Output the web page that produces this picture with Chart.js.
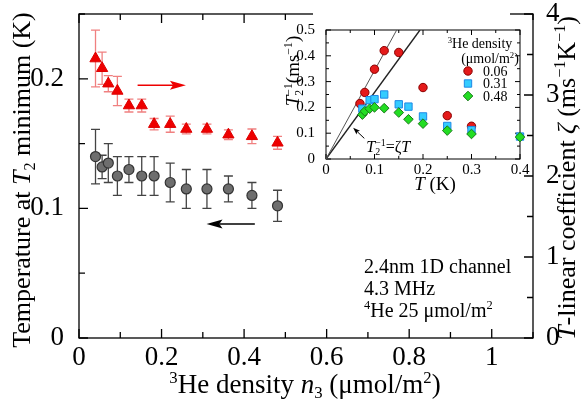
<!DOCTYPE html>
<html><head><meta charset="utf-8">
<script src="https://cdn.jsdelivr.net/npm/chart.js@4.4.1/dist/chart.umd.min.js"></script>
<style>
html,body{margin:0;padding:0;background:#fff;}
#wrap{position:relative;width:582px;height:407px;overflow:hidden;background:#fff;}
#main{position:absolute;left:0;top:0;}
#inset{position:absolute;left:272px;top:0;}
</style></head><body>
<div id="wrap"><canvas id="main" width="582" height="407"></canvas><canvas id="inset" width="260" height="200"></canvas></div>
<script>
// ---------- main panel data ----------
const densities = [0.040,0.056,0.071,0.093,0.121,0.152,0.182,0.221,0.260,0.310,0.362,0.419,0.481];
const tMin      = [0.140,0.132,0.135,0.125,0.130,0.125,0.125,0.120,0.115,0.115,0.115,0.110,0.102];
const tMinErr   = [0.021,0.009,0.015,0.015,0.010,0.015,0.015,0.015,0.015,0.015,0.010,0.010,0.012];
const zeta      = [3.45,3.33,3.14,3.05,2.87,2.87,2.64,2.64,2.58,2.58,2.51,2.49,2.41];
const zetaErr   = [0.35,0.20,0.10,0.18,0.08,0.08,0.07,0.10,0.06,0.06,0.06,0.09,0.08];
const xTickLabels = [0,0.2,0.4,0.6,0.8,1];
const yLeftTickLabels = [0,0.1,0.2];
const yRightTickLabels = [0,1,2,3,4];
// arrows (data units): [x from, x to, y]
const redArrow = [0.142, 0.259, 3.12];
const blackArrow = [0.426, 0.309, 0.088];
const infoLines = ['2.4nm 1D channel', '4.3 MHz', '4He 25 μmol/m2'];

// ---------- inset data ----------
const insetLegend = ['0.06', '0.31', '0.48'];
const tempA = [0.07,0.08,0.10,0.12,0.15,0.20,0.25,0.30];
const rateA = [0.215,0.258,0.348,0.420,0.413,0.277,0.168,0.127];
const tempB = [0.075,0.09,0.10,0.12,0.15,0.17,0.20,0.25,0.30,0.40];
const rateB = [0.195,0.228,0.232,0.250,0.212,0.203,0.165,0.128,0.112,0.087];
const tempC = [0.075,0.08,0.09,0.10,0.12,0.15,0.17,0.20,0.25,0.30,0.40];
const rateC = [0.172,0.185,0.195,0.200,0.197,0.180,0.154,0.137,0.110,0.097,0.085];
const zetaLines = [3.43, 2.58];
const insetXTicks = [0,0.1,0.2,0.3,0.4];
const insetYTicks = [0,0.1,0.2,0.3,0.4,0.5];

const SERIF = "'Liberation Serif','Times New Roman',serif";

function richText(ctx, segs, cx, cy, rot, size, align, color) {
  ctx.save(); ctx.translate(cx, cy); ctx.rotate(rot || 0);
  const items = []; let total = 0;
  for (const s of segs) {
    const small = s.sup || s.sub;
    const fs = small ? size * 0.62 : size;
    const font = (s.it ? 'italic ' : '') + fs + 'px ' + SERIF;
    ctx.font = font;
    const w = ctx.measureText(s.t).width;
    items.push({ s, font, w });
    if (!s.noadv) total += w;
  }
  let x = align === 'left' ? 0 : -total / 2;
  ctx.fillStyle = color || '#000'; ctx.textAlign = 'left'; ctx.textBaseline = 'alphabetic';
  const base = size * 0.33;
  for (const it of items) {
    ctx.font = it.font;
    const dy = it.s.sup ? -size * 0.36 : it.s.sub ? size * 0.2 : 0;
    ctx.fillText(it.s.t, x, base + dy);
    if (!it.s.noadv) x += it.w;
  }
  ctx.restore();
}

function arrow(ctx, x1, y1, x2, y2, color, hl, hw, lw) {
  const ang = Math.atan2(y2 - y1, x2 - x1);
  ctx.save(); ctx.strokeStyle = color; ctx.fillStyle = color; ctx.lineWidth = lw;
  ctx.beginPath(); ctx.moveTo(x1, y1);
  ctx.lineTo(x2 - Math.cos(ang) * hl * 0.8, y2 - Math.sin(ang) * hl * 0.8); ctx.stroke();
  ctx.beginPath(); ctx.moveTo(x2, y2);
  ctx.lineTo(x2 - Math.cos(ang) * hl - Math.sin(ang) * hw, y2 - Math.sin(ang) * hl + Math.cos(ang) * hw);
  ctx.lineTo(x2 - Math.cos(ang) * hl * 0.8, y2 - Math.sin(ang) * hl * 0.8);
  ctx.lineTo(x2 - Math.cos(ang) * hl + Math.sin(ang) * hw, y2 - Math.sin(ang) * hl - Math.cos(ang) * hw);
  ctx.closePath(); ctx.fill();
  ctx.restore();
}

function fmt(v) { return String(+(+v).toFixed(2)); }
function noPad(s) { s.paddingTop = 0; s.paddingBottom = 0; s.paddingLeft = 0; s.paddingRight = 0; }

const mainDecor = {
  id: 'mainDecor',
  beforeDatasetsDraw(chart) {
    const ctx = chart.ctx, a = chart.chartArea;
    chart.data.datasets.forEach((ds) => {
      const xs = chart.scales.x, ys = chart.scales[ds.yAxisID];
      ctx.save(); ctx.strokeStyle = ds.errColor; ctx.lineWidth = 1.3;
      ds.data.forEach((p, i) => {
        const px = xs.getPixelForValue(p.x);
        const t = ys.getPixelForValue(p.y + ds.errors[i]);
        const b = ys.getPixelForValue(p.y - ds.errors[i]);
        ctx.beginPath();
        ctx.moveTo(px, t); ctx.lineTo(px, b);
        ctx.moveTo(px - 4.5, t); ctx.lineTo(px + 4.5, t);
        ctx.moveTo(px - 4.5, b); ctx.lineTo(px + 4.5, b);
        ctx.stroke();
      });
      ctx.restore();
    });
    ctx.save(); ctx.strokeStyle = '#000'; ctx.lineWidth = 1.3;
    ctx.strokeRect(a.left, a.top, a.right - a.left, a.bottom - a.top);
    ctx.beginPath();
    const xs = chart.scales.x, yl = chart.scales.y, yr = chart.scales.y2;
    for (let k = 0; k <= 11; k++) {
      const px = xs.getPixelForValue(k / 10), L = k % 2 === 0 ? 9 : 6;
      ctx.moveTo(px, a.bottom); ctx.lineTo(px, a.bottom - L);
      ctx.moveTo(px, a.top); ctx.lineTo(px, a.top + L);
    }
    for (let k = 0; k <= 5; k++) {
      const py = yl.getPixelForValue(k * 0.05), L = k % 2 === 0 ? 9 : 6;
      ctx.moveTo(a.left, py); ctx.lineTo(a.left + L, py);
    }
    for (let k = 0; k <= 8; k++) {
      const py = yr.getPixelForValue(k * 0.5), L = k % 2 === 0 ? 9 : 6;
      ctx.moveTo(a.right, py); ctx.lineTo(a.right - L, py);
    }
    ctx.stroke(); ctx.restore();
  },
  afterDatasetsDraw(chart) {
    const ctx = chart.ctx;
    const xs = chart.scales.x, yl = chart.scales.y, yr = chart.scales.y2;
    arrow(ctx, xs.getPixelForValue(redArrow[0]), yr.getPixelForValue(redArrow[2]),
      xs.getPixelForValue(redArrow[1]), yr.getPixelForValue(redArrow[2]), '#ee0000', 16, 4.5, 1.6);
    arrow(ctx, xs.getPixelForValue(blackArrow[0]), yl.getPixelForValue(blackArrow[2]),
      xs.getPixelForValue(blackArrow[1]), yl.getPixelForValue(blackArrow[2]), '#000', 16, 4.5, 1.6);
    richText(ctx, [{t:'Temperature at '},{t:'T',it:1},{t:'2',sub:1},{t:' minimum (K)'}], 21, 180, -Math.PI/2, 26);
    richText(ctx, [{t:'3',sup:1},{t:'He density '},{t:'n',it:1},{t:'3',sub:1},{t:' (μmol/m'},{t:'2',sup:1},{t:')'}], 305, 384, 0, 27);
    richText(ctx, [{t:'T',it:1},{t:'-linear coefficient '},{t:'ζ',it:1},{t:' (ms'},{t:'−1',sup:1},{t:'K'},{t:'−1',sup:1},{t:')'}], 566, 178, -Math.PI/2, 26);
    richText(ctx, [{t:infoLines[0]}], 364, 266, 0, 20, 'left');
    richText(ctx, [{t:infoLines[1]}], 364, 288, 0, 20, 'left');
    richText(ctx, [{t:infoLines[2].slice(0,1),sup:1},{t:infoLines[2].slice(1,-1)},{t:infoLines[2].slice(-1),sup:1}], 364, 310, 0, 20, 'left');
  }
};

const tickFont = { family: SERIF, size: 27 };
new Chart(document.getElementById('main').getContext('2d'), {
  type: 'scatter',
  data: { datasets: [
    { label: 'T2 minimum', yAxisID: 'y', data: densities.map((x, i) => ({ x, y: tMin[i] })),
      pointStyle: 'circle', pointRadius: 5, backgroundColor: '#6e6e6e', borderColor: '#333', borderWidth: 1.2,
      errors: tMinErr, errColor: '#444' },
    { label: 'zeta', yAxisID: 'y2', data: densities.map((x, i) => ({ x, y: zeta[i] })),
      pointStyle: 'triangle', pointRadius: 6.5, backgroundColor: '#ee0000', borderColor: '#dd0000', borderWidth: 1,
      errors: zetaErr, errColor: '#f08080' }
  ]},
  options: {
    responsive: false, animation: false, devicePixelRatio: 1,
    layout: { padding: { top: 14, left: 0, right: 0, bottom: 0 } },
    plugins: { legend: { display: false }, tooltip: { enabled: false } },
    scales: {
      x: { type: 'linear', position: 'bottom', min: 0, max: 1.1,
        grid: { display: false }, border: { display: false },
        afterFit: s => { s.height = 69; noPad(s); },
        afterBuildTicks: s => { s.ticks = xTickLabels.map(v => ({ value: v })); },
        ticks: { font: tickFont, color: '#000', padding: -4, maxRotation: 0, callback: v => fmt(v) } },
      y: { type: 'linear', position: 'left', min: 0, max: 0.25,
        grid: { display: false }, border: { display: false },
        afterFit: s => { s.width = 79; noPad(s); },
        afterBuildTicks: s => { s.ticks = yLeftTickLabels.map(v => ({ value: v })); },
        ticks: { font: tickFont, color: '#000', padding: 7, callback: v => fmt(v) } },
      y2: { type: 'linear', position: 'right', min: 0, max: 4,
        grid: { display: false }, border: { display: false },
        afterFit: s => { s.width = 49; noPad(s); },
        afterBuildTicks: s => { s.ticks = yRightTickLabels.map(v => ({ value: v })); },
        ticks: { font: tickFont, color: '#000', padding: 5, callback: v => fmt(v) } }
    }
  },
  plugins: [mainDecor]
});

// ---------- inset ----------
const insetStyles = [
  { pointStyle: 'circle', pointRadius: 4.2, backgroundColor: '#e41a1a', borderColor: '#8b0000' },
  { pointStyle: 'rect', pointRadius: 5.2, backgroundColor: '#33ccff', borderColor: '#1e88e5' },
  { pointStyle: 'rectRot', pointRadius: 4.8, backgroundColor: '#22dd22', borderColor: '#1a7a1a' }
];
const insetDecor = {
  id: 'insetDecor',
  beforeDraw(chart) {
    const ctx = chart.ctx;
    ctx.save(); ctx.fillStyle = '#fff'; ctx.fillRect(41, 0, 197, 200); ctx.restore();
  },
  beforeDatasetsDraw(chart) {
    const ctx = chart.ctx, a = chart.chartArea, xs = chart.scales.x, ys = chart.scales.y;
    ctx.save(); ctx.strokeStyle = '#000'; ctx.lineWidth = 1;
    ctx.strokeRect(a.left, a.top, a.right - a.left, a.bottom - a.top);
    ctx.beginPath();
    for (let k = 0; k <= 8; k++) {
      const px = xs.getPixelForValue(k * 0.05), L = k % 2 === 0 ? 5 : 3;
      ctx.moveTo(px, a.bottom); ctx.lineTo(px, a.bottom - L);
      ctx.moveTo(px, a.top); ctx.lineTo(px, a.top + L);
    }
    for (let k = 0; k <= 10; k++) {
      const py = ys.getPixelForValue(k * 0.05), L = k % 2 === 0 ? 5 : 3;
      ctx.moveTo(a.left, py); ctx.lineTo(a.left + L, py);
      ctx.moveTo(a.right, py); ctx.lineTo(a.right - L, py);
    }
    ctx.stroke(); ctx.restore();
  },
  afterDatasetsDraw(chart) {
    const ctx = chart.ctx, a = chart.chartArea, xs = chart.scales.x, ys = chart.scales.y;
    arrow(ctx, xs.getPixelForValue(0.079), ys.getPixelForValue(0.080), xs.getPixelForValue(0.056), ys.getPixelForValue(0.121), '#000', 7, 2.5, 1);
    richText(ctx, [{t:'T',it:1},{t:'2',sub:1,noadv:1},{t:'−1',sup:1},{t:'=ζ'},{t:'T',it:1}], xs.getPixelForValue(0.083), ys.getPixelForValue(0.048), 0, 16, 'left');
    richText(ctx, [{t:'3',sup:1},{t:'He density'}], a.left + 154, 43, 0, 14);
    richText(ctx, [{t:'(μmol/m'},{t:'2',sup:1},{t:')'}], a.left + 164, 58, 0, 14);
    insetLegend.forEach((lab, i) => {
      const y = 71 + i * 12.5;
      const st = insetStyles[i];
      ctx.save(); ctx.fillStyle = st.backgroundColor; ctx.strokeStyle = st.borderColor; ctx.lineWidth = 1;
      Chart.helpers.drawPoint(ctx, { pointStyle: st.pointStyle, radius: st.pointRadius, borderWidth: 1, rotation: 0 }, a.left + 142, y);
      ctx.restore();
      richText(ctx, [{t:lab}], a.left + 157, y, 0, 14, 'left');
    });
    richText(ctx, [{t:'T',it:1},{t:'2',sub:1,noadv:1},{t:'−1',sup:1},{t:'(ms'},{t:'−1',sup:1},{t:')'}], 21, 71, -Math.PI/2, 19);
    richText(ctx, [{t:'T',it:1},{t:' (K)'}], 163, 184, 0, 19);
  }
};
const lineEnds = zetaLines.map(z => [{ x: 0, y: 0 }, { x: 0.5 / z, y: 0.5 }]);
const insetFont = { family: SERIF, size: 15 };
new Chart(document.getElementById('inset').getContext('2d'), {
  type: 'scatter',
  data: { datasets: [
    Object.assign({ label: insetLegend[0], data: tempA.map((x, i) => ({ x, y: rateA[i] })), order: 3, borderWidth: 1, clip: false }, insetStyles[0]),
    Object.assign({ label: insetLegend[1], data: tempB.map((x, i) => ({ x, y: rateB[i] })), order: 2, borderWidth: 1, clip: false }, insetStyles[1]),
    Object.assign({ label: insetLegend[2], data: tempC.map((x, i) => ({ x, y: rateC[i] })), order: 1, borderWidth: 1, clip: false }, insetStyles[2]),
    { type: 'line', label: 'zeta1', data: lineEnds[0], borderColor: '#555', borderWidth: 1, pointRadius: 0, order: 10 },
    { type: 'line', label: 'zeta2', data: lineEnds[1], borderColor: '#222', borderWidth: 1.4, pointRadius: 0, order: 11 }
  ]},
  options: {
    responsive: false, animation: false, devicePixelRatio: 1,
    layout: { padding: { top: 30, left: 0, right: 12, bottom: 0 } },
    plugins: { legend: { display: false }, tooltip: { enabled: false } },
    scales: {
      x: { type: 'linear', min: 0, max: 0.4, grid: { display: false }, border: { display: false },
        afterFit: s => { s.height = 41; noPad(s); },
        afterBuildTicks: s => { s.ticks = insetXTicks.map(v => ({ value: v })); },
        ticks: { font: insetFont, color: '#000', padding: -6, maxRotation: 0, callback: v => fmt(v) } },
      y: { type: 'linear', min: 0, max: 0.5, grid: { display: false }, border: { display: false },
        afterFit: s => { s.width = 54; noPad(s); },
        afterBuildTicks: s => { s.ticks = insetYTicks.map(v => ({ value: v })); },
        ticks: { font: insetFont, color: '#000', padding: 3, callback: v => fmt(v) } }
    }
  },
  plugins: [insetDecor]
});
</script></body></html>
